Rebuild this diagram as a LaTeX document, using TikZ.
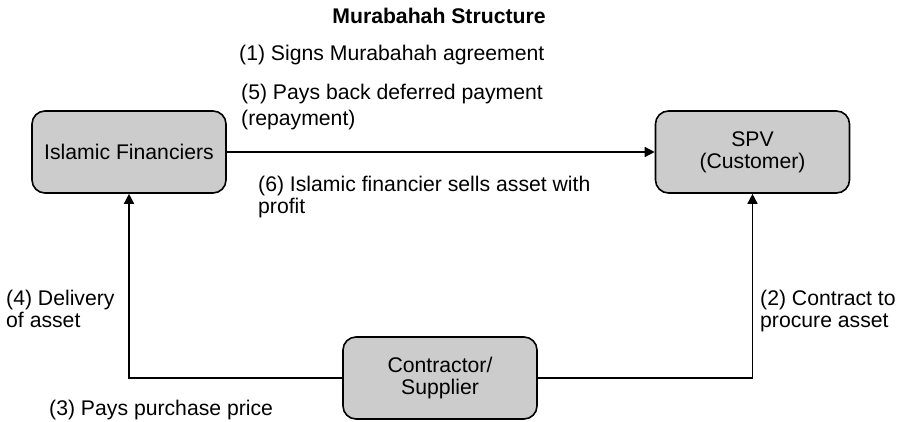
\documentclass[tikz,border=0pt]{standalone}
\usepackage{fontspec}
\setmainfont{Liberation Sans}
\usetikzlibrary{arrows.meta}

\begin{document}
\begin{tikzpicture}[x=1pt, y=-1pt, >={Triangle[length=10pt,width=10pt]}, every node/.style={inner sep=0pt, font=\fontsize{21.2pt}{22pt}\selectfont}, party/.style={rectangle, draw, line width=1.6pt, rounded corners=13pt, fill=black!20, minimum width=194pt, minimum height=82pt, align=center}, note/.style={anchor=base west, align=left}, flow/.style={line width=1.5pt}]
    \useasboundingbox (0,0) rectangle (903,421);

    \node (title) [anchor=base, font=\fontsize{21.2pt}{22pt}\selectfont\bfseries] at (439,23) {Murabahah Structure};

    \node (fin) [party] at (129,152) {Islamic Financiers};
    \node (spv) [party, right of=fin, node distance=623.5pt] {SPV\\(Customer)};
    \node (con) [party] at (440,378) {Contractor/\\Supplier};

    \draw [->, flow] (fin) -- (spv);
    \draw [->, flow] (con) -| (fin);
    \draw [->, flow] (con) -| (spv);

    \node (sign) [note] at (239,60) {(1) Signs Murabahah agreement};
    \node (repay) [note] at (241,125) {(5) Pays back deferred payment\\[4pt](repayment)};
    \node (sell) [note] at (258,213) {(6) Islamic financier sells asset with\\profit};
    \node (deliver) [note] at (6,327) {(4) Delivery\\of asset};
    \node (procure) [note] at (760,327) {(2) Contract to\\procure asset};
    \node (pay) [note] at (49,415) {(3) Pays purchase price};
\end{tikzpicture}
\end{document}
